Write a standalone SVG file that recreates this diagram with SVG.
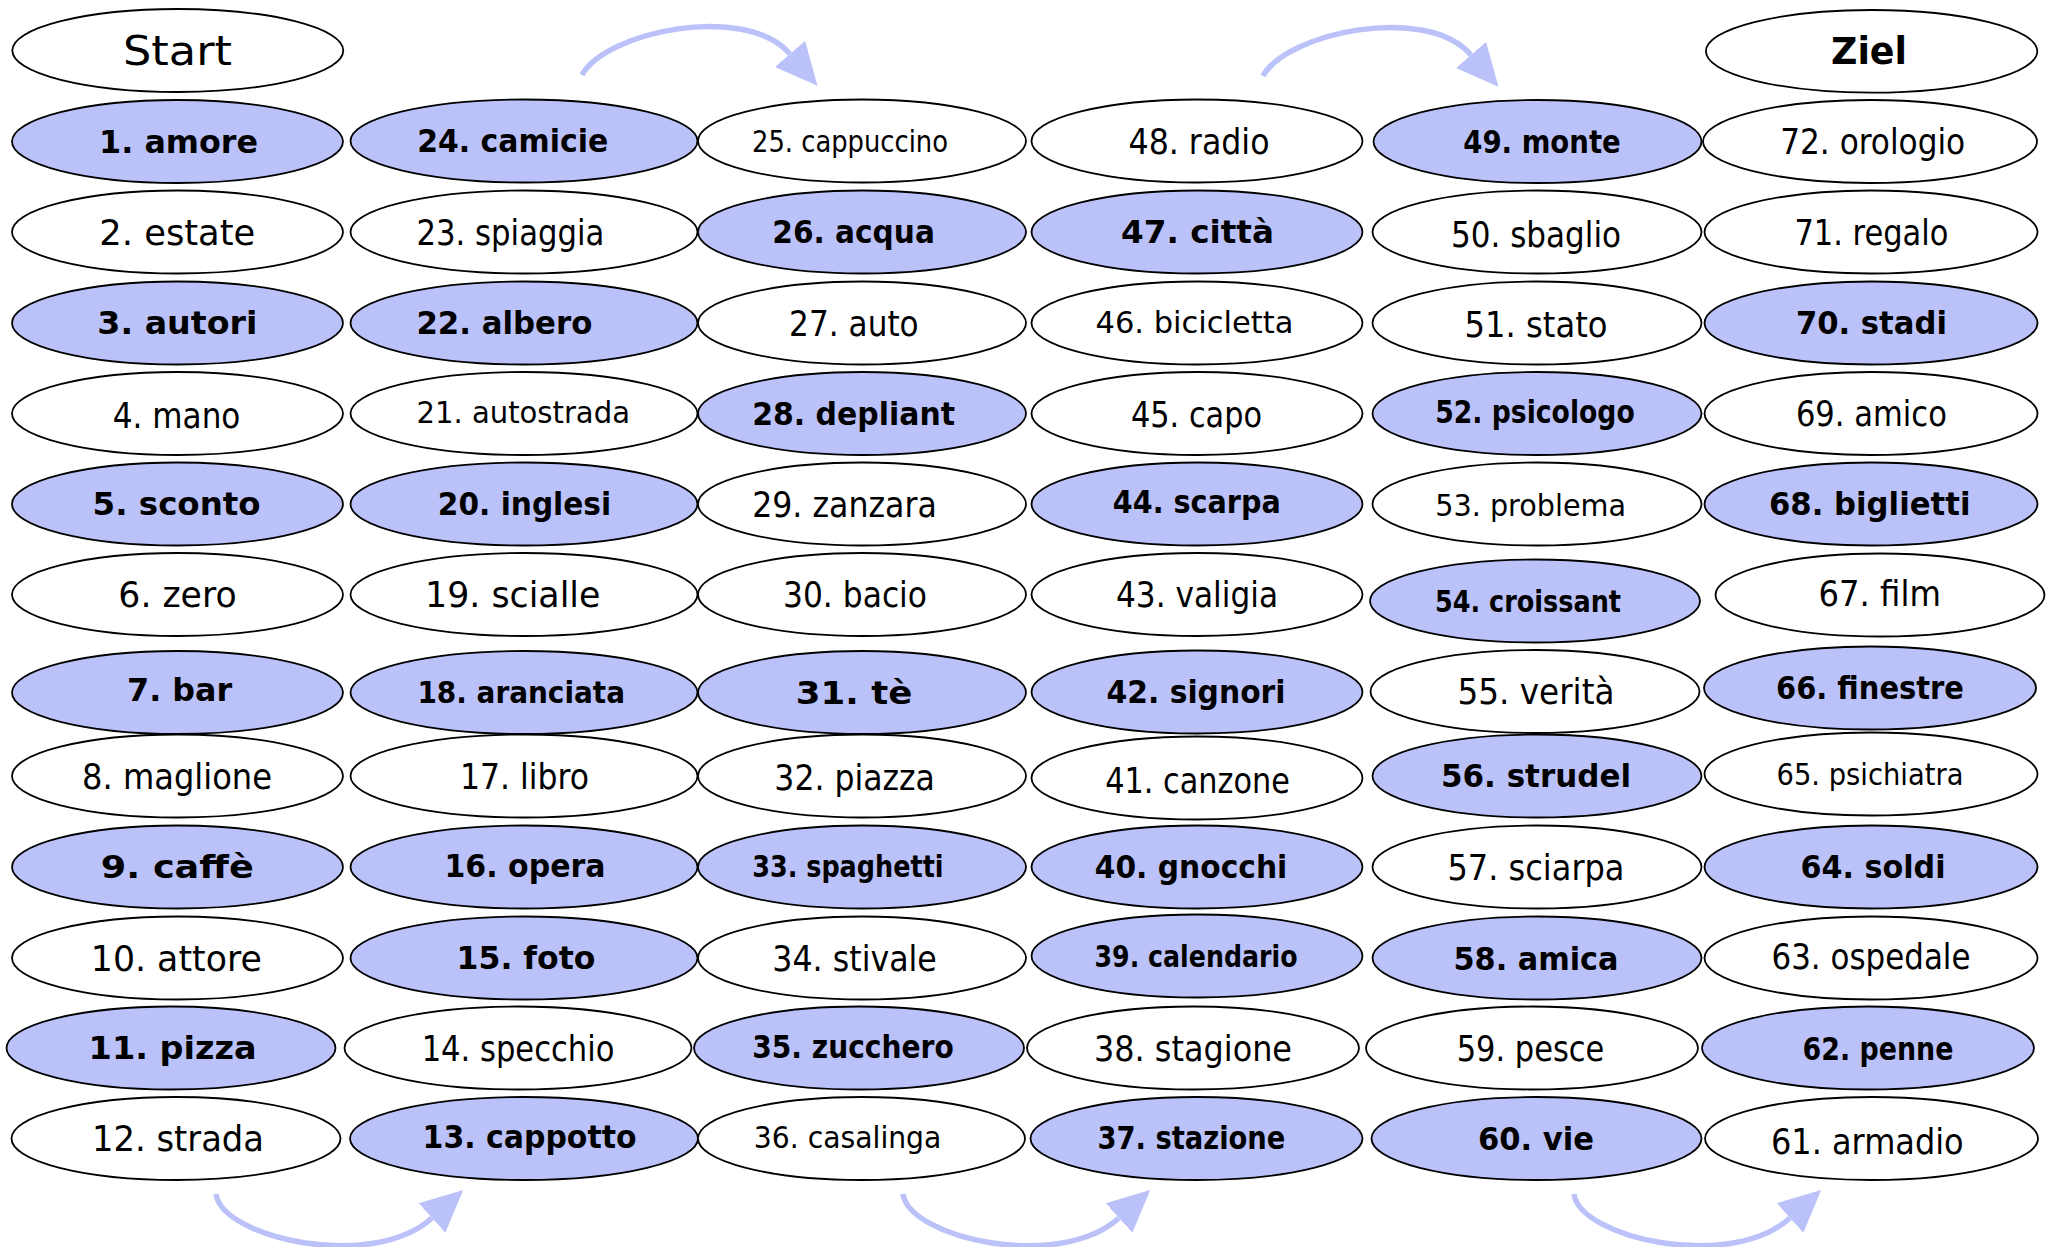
<svg xmlns="http://www.w3.org/2000/svg" width="2053" height="1247" viewBox="0 0 2053 1247">
<defs>
<style>
ellipse{stroke:#000;stroke-width:1.8}
.w{fill:#fff}
.bl{fill:#BBC2FA}
text{font-family:"DejaVu Sans",sans-serif;text-anchor:middle;dominant-baseline:central;fill:#000}
.r{font-size:36px}
.rs{font-size:31px}
.b{font-size:32px;font-weight:bold}
.bs{font-size:30px;font-weight:bold}
.big{font-size:40px}
.bigb{font-size:37px;font-weight:bold}
.arrow{fill:none;stroke:#BBC2FA;stroke-width:5.5;marker-end:url(#ah)}
</style>
<marker id="ah" markerUnits="userSpaceOnUse" viewBox="0 -21 42 42" refX="0" refY="0" markerWidth="42" markerHeight="42" orient="auto">
<path d="M0,-20 L42,0 L0,20 z" fill="#BBC2FA"/>
</marker>
</defs>
<rect width="2053" height="1247" fill="#fff"/>

<g id="connectors">
<path class="arrow" d="M582,75 C605,32 745,2 790,54"/>
<path class="arrow" d="M1263,76 C1286,33 1426,3 1471,55"/>
<path class="arrow" d="M216,1194 C222,1238 372,1272 432,1218"/>
<path class="arrow" d="M903,1194 C909,1238 1059,1272 1119,1218"/>
<path class="arrow" d="M1574,1194 C1580,1238 1730,1272 1790,1218"/>
</g>

<g id="start"><ellipse class="w" cx="177.8" cy="50.5" rx="165.5" ry="41.5"/><text class="big" x="177.5" y="50.5" textLength="109" lengthAdjust="spacingAndGlyphs">Start</text></g>
<g id="ziel"><ellipse class="w" cx="1871.6" cy="51.3" rx="165.7" ry="41.3"/><text class="bigb" x="1869" y="51.3" textLength="76" lengthAdjust="spacingAndGlyphs">Ziel</text></g>

<g id="n1"><ellipse class="bl" cx="177.5" cy="141.5" rx="165.5" ry="41.5"/><text class="b" x="178.6" y="141.5" textLength="159" lengthAdjust="spacingAndGlyphs">1. amore</text></g>
<g id="n24"><ellipse class="bl" cx="524" cy="141" rx="173.5" ry="41.5"/><text class="b" x="512.7" y="141" textLength="191" lengthAdjust="spacingAndGlyphs">24. camicie</text></g>
<g id="n25"><ellipse class="w" cx="862" cy="141" rx="164" ry="41.5"/><text class="rs" x="850" y="141" textLength="196" lengthAdjust="spacingAndGlyphs">25. cappuccino</text></g>
<g id="n48"><ellipse class="w" cx="1197" cy="141" rx="165.5" ry="41.5"/><text class="r" x="1199" y="141" textLength="141" lengthAdjust="spacingAndGlyphs">48. radio</text></g>
<g id="n49"><ellipse class="bl" cx="1537.5" cy="141.5" rx="164" ry="41.5"/><text class="b" x="1542" y="141.5" textLength="157.5" lengthAdjust="spacingAndGlyphs">49. monte</text></g>
<g id="n72"><ellipse class="w" cx="1870" cy="141.5" rx="167" ry="41.5"/><text class="r" x="1872.7" y="141.5" textLength="185" lengthAdjust="spacingAndGlyphs">72. orologio</text></g>

<g id="n2"><ellipse class="w" cx="177.5" cy="232" rx="165.5" ry="41.5"/><text class="r" x="177.3" y="232" textLength="156" lengthAdjust="spacingAndGlyphs">2. estate</text></g>
<g id="n23"><ellipse class="w" cx="524" cy="232" rx="173.5" ry="41.5"/><text class="r" x="510.4" y="232" textLength="188" lengthAdjust="spacingAndGlyphs">23. spiaggia</text></g>
<g id="n26"><ellipse class="bl" cx="862" cy="232" rx="164" ry="41.5"/><text class="b" x="853.6" y="232" textLength="162.6" lengthAdjust="spacingAndGlyphs">26. acqua</text></g>
<g id="n47"><ellipse class="bl" cx="1197" cy="232" rx="165.5" ry="41.5"/><text class="b" x="1197.5" y="232" textLength="153" lengthAdjust="spacingAndGlyphs">47. città</text></g>
<g id="n50"><ellipse class="w" cx="1537" cy="232" rx="164.5" ry="41.5"/><text class="r" x="1536" y="234" textLength="170" lengthAdjust="spacingAndGlyphs">50. sbaglio</text></g>
<g id="n71"><ellipse class="w" cx="1871" cy="232" rx="166.5" ry="41.5"/><text class="r" x="1871.4" y="232" textLength="154" lengthAdjust="spacingAndGlyphs">71. regalo</text></g>

<g id="n3"><ellipse class="bl" cx="177.5" cy="323" rx="165.5" ry="41.5"/><text class="b" x="177.3" y="323" textLength="160" lengthAdjust="spacingAndGlyphs">3. autori</text></g>
<g id="n22"><ellipse class="bl" cx="524" cy="323" rx="173.5" ry="41.5"/><text class="b" x="504.4" y="323" textLength="176" lengthAdjust="spacingAndGlyphs">22. albero</text></g>
<g id="n27"><ellipse class="w" cx="862" cy="323" rx="164" ry="41.5"/><text class="r" x="853.9" y="323" textLength="129.6" lengthAdjust="spacingAndGlyphs">27. auto</text></g>
<g id="n46"><ellipse class="w" cx="1197" cy="323" rx="165.5" ry="41.5"/><text class="rs" x="1194.5" y="322" textLength="198" lengthAdjust="spacingAndGlyphs">46. bicicletta</text></g>
<g id="n51"><ellipse class="w" cx="1537" cy="323" rx="164.5" ry="41.5"/><text class="r" x="1536" y="324" textLength="143" lengthAdjust="spacingAndGlyphs">51. stato</text></g>
<g id="n70"><ellipse class="bl" cx="1871" cy="323" rx="166.5" ry="41.5"/><text class="b" x="1871.4" y="323" textLength="151" lengthAdjust="spacingAndGlyphs">70. stadi</text></g>

<g id="n4"><ellipse class="w" cx="177.5" cy="413.5" rx="165.5" ry="41.5"/><text class="r" x="176.6" y="415" textLength="127.6" lengthAdjust="spacingAndGlyphs">4. mano</text></g>
<g id="n21"><ellipse class="w" cx="524" cy="413.5" rx="173.5" ry="41.5"/><text class="rs" x="523.2" y="412" textLength="213.6" lengthAdjust="spacingAndGlyphs">21. autostrada</text></g>
<g id="n28"><ellipse class="bl" cx="862" cy="413.5" rx="164" ry="41.5"/><text class="b" x="853.6" y="413.5" textLength="202.8" lengthAdjust="spacingAndGlyphs">28. depliant</text></g>
<g id="n45"><ellipse class="w" cx="1197" cy="413.5" rx="165.5" ry="41.5"/><text class="r" x="1196.5" y="414" textLength="131" lengthAdjust="spacingAndGlyphs">45. capo</text></g>
<g id="n52"><ellipse class="bl" cx="1537" cy="413.5" rx="164.5" ry="41.5"/><text class="b" x="1535" y="412" textLength="199.5" lengthAdjust="spacingAndGlyphs">52. psicologo</text></g>
<g id="n69"><ellipse class="w" cx="1871" cy="413.5" rx="166.5" ry="41.5"/><text class="r" x="1871.4" y="413.5" textLength="151" lengthAdjust="spacingAndGlyphs">69. amico</text></g>

<g id="n5"><ellipse class="bl" cx="177.5" cy="504" rx="165.5" ry="41.5"/><text class="b" x="176.6" y="504" textLength="168" lengthAdjust="spacingAndGlyphs">5. sconto</text></g>
<g id="n20"><ellipse class="bl" cx="524" cy="504" rx="173.5" ry="41.5"/><text class="b" x="524.5" y="504" textLength="173.3" lengthAdjust="spacingAndGlyphs">20. inglesi</text></g>
<g id="n29"><ellipse class="w" cx="862" cy="504" rx="164" ry="41.5"/><text class="r" x="844.5" y="504" textLength="184.7" lengthAdjust="spacingAndGlyphs">29. zanzara</text></g>
<g id="n44"><ellipse class="bl" cx="1197" cy="504" rx="165.5" ry="41.5"/><text class="b" x="1196.8" y="502" textLength="168" lengthAdjust="spacingAndGlyphs">44. scarpa</text></g>
<g id="n53"><ellipse class="w" cx="1537" cy="504" rx="164.5" ry="41.5"/><text class="rs" x="1530.6" y="505" textLength="190.7" lengthAdjust="spacingAndGlyphs">53. problema</text></g>
<g id="n68"><ellipse class="bl" cx="1871" cy="504" rx="166.5" ry="41.5"/><text class="b" x="1869.7" y="504" textLength="201.5" lengthAdjust="spacingAndGlyphs">68. biglietti</text></g>

<g id="n6"><ellipse class="w" cx="177.5" cy="594.5" rx="165.5" ry="41.5"/><text class="r" x="177.5" y="594.5" textLength="118.3" lengthAdjust="spacingAndGlyphs">6. zero</text></g>
<g id="n19"><ellipse class="w" cx="524" cy="594.5" rx="173.5" ry="41.5"/><text class="r" x="512.7" y="594.5" textLength="175.4" lengthAdjust="spacingAndGlyphs">19. scialle</text></g>
<g id="n30"><ellipse class="w" cx="862" cy="594.5" rx="164" ry="41.5"/><text class="r" x="855" y="594.5" textLength="144" lengthAdjust="spacingAndGlyphs">30. bacio</text></g>
<g id="n43"><ellipse class="w" cx="1197" cy="594.5" rx="165.5" ry="41.5"/><text class="r" x="1197" y="594.5" textLength="162" lengthAdjust="spacingAndGlyphs">43. valigia</text></g>
<g id="n54"><ellipse class="bl" cx="1535" cy="601" rx="165" ry="41.5"/><text class="bs" x="1528" y="601" textLength="186" lengthAdjust="spacingAndGlyphs">54. croissant</text></g>
<g id="n67"><ellipse class="w" cx="1880" cy="595" rx="164.5" ry="41.5"/><text class="r" x="1879.7" y="593" textLength="122.4" lengthAdjust="spacingAndGlyphs">67. film</text></g>

<g id="n7"><ellipse class="bl" cx="177.5" cy="692.5" rx="165.5" ry="41.5"/><text class="b" x="179.6" y="690" textLength="105" lengthAdjust="spacingAndGlyphs">7. bar</text></g>
<g id="n18"><ellipse class="bl" cx="524" cy="692.5" rx="173.5" ry="41.5"/><text class="bs" x="521.2" y="692" textLength="207.6" lengthAdjust="spacingAndGlyphs">18. aranciata</text></g>
<g id="n31"><ellipse class="bl" cx="862" cy="692.5" rx="164" ry="41.5"/><text class="b" x="854" y="693" textLength="116.5" lengthAdjust="spacingAndGlyphs">31. tè</text></g>
<g id="n42"><ellipse class="bl" cx="1197" cy="692" rx="165.5" ry="41.5"/><text class="b" x="1196" y="692" textLength="179" lengthAdjust="spacingAndGlyphs">42. signori</text></g>
<g id="n55"><ellipse class="w" cx="1535" cy="691.5" rx="164.5" ry="41.5"/><text class="r" x="1536" y="691.5" textLength="157" lengthAdjust="spacingAndGlyphs">55. verità</text></g>
<g id="n66"><ellipse class="bl" cx="1870" cy="688" rx="166" ry="41.5"/><text class="b" x="1870" y="688" textLength="188" lengthAdjust="spacingAndGlyphs">66. finestre</text></g>

<g id="n8"><ellipse class="w" cx="177.5" cy="776" rx="165.5" ry="41.5"/><text class="r" x="177" y="776" textLength="190" lengthAdjust="spacingAndGlyphs">8. maglione</text></g>
<g id="n17"><ellipse class="w" cx="524" cy="776" rx="173.5" ry="41.5"/><text class="r" x="524.5" y="776" textLength="129" lengthAdjust="spacingAndGlyphs">17. libro</text></g>
<g id="n32"><ellipse class="w" cx="862" cy="776" rx="164" ry="41.5"/><text class="r" x="854.6" y="777" textLength="160.5" lengthAdjust="spacingAndGlyphs">32. piazza</text></g>
<g id="n41"><ellipse class="w" cx="1197" cy="778" rx="165.5" ry="41.5"/><text class="r" x="1197.5" y="780" textLength="184.6" lengthAdjust="spacingAndGlyphs">41. canzone</text></g>
<g id="n56"><ellipse class="bl" cx="1537" cy="776" rx="164.5" ry="41.5"/><text class="b" x="1536" y="776" textLength="190" lengthAdjust="spacingAndGlyphs">56. strudel</text></g>
<g id="n65"><ellipse class="w" cx="1871" cy="774" rx="166.5" ry="41.5"/><text class="rs" x="1870" y="774" textLength="187" lengthAdjust="spacingAndGlyphs">65. psichiatra</text></g>

<g id="n9"><ellipse class="bl" cx="177.5" cy="867" rx="165.5" ry="41.5"/><text class="b" x="177.3" y="867" textLength="153" lengthAdjust="spacingAndGlyphs">9. caffè</text></g>
<g id="n16"><ellipse class="bl" cx="524" cy="867" rx="173.5" ry="41.5"/><text class="b" x="525" y="866" textLength="161" lengthAdjust="spacingAndGlyphs">16. opera</text></g>
<g id="n33"><ellipse class="bl" cx="862" cy="867" rx="164" ry="41.5"/><text class="bs" x="847.9" y="866" textLength="191.4" lengthAdjust="spacingAndGlyphs">33. spaghetti</text></g>
<g id="n40"><ellipse class="bl" cx="1197" cy="867" rx="165.5" ry="41.5"/><text class="b" x="1191" y="867" textLength="192.5" lengthAdjust="spacingAndGlyphs">40. gnocchi</text></g>
<g id="n57"><ellipse class="w" cx="1537" cy="867" rx="164.5" ry="41.5"/><text class="r" x="1536" y="867" textLength="177" lengthAdjust="spacingAndGlyphs">57. sciarpa</text></g>
<g id="n64"><ellipse class="bl" cx="1871" cy="867" rx="166.5" ry="41.5"/><text class="b" x="1873" y="867" textLength="145" lengthAdjust="spacingAndGlyphs">64. soldi</text></g>

<g id="n10"><ellipse class="w" cx="177.5" cy="958" rx="165.5" ry="41.5"/><text class="r" x="176.3" y="958" textLength="171" lengthAdjust="spacingAndGlyphs">10. attore</text></g>
<g id="n15"><ellipse class="bl" cx="524" cy="958" rx="173.5" ry="41.5"/><text class="b" x="526" y="958" textLength="139" lengthAdjust="spacingAndGlyphs">15. foto</text></g>
<g id="n34"><ellipse class="w" cx="862" cy="958" rx="164" ry="41.5"/><text class="r" x="854.6" y="958" textLength="164.5" lengthAdjust="spacingAndGlyphs">34. stivale</text></g>
<g id="n39"><ellipse class="bl" cx="1197" cy="956" rx="165.5" ry="41.5"/><text class="bs" x="1196" y="956" textLength="203" lengthAdjust="spacingAndGlyphs">39. calendario</text></g>
<g id="n58"><ellipse class="bl" cx="1537" cy="958" rx="164.5" ry="41.5"/><text class="b" x="1536" y="959" textLength="165" lengthAdjust="spacingAndGlyphs">58. amica</text></g>
<g id="n63"><ellipse class="w" cx="1871" cy="958" rx="166.5" ry="41.5"/><text class="r" x="1871" y="956" textLength="199" lengthAdjust="spacingAndGlyphs">63. ospedale</text></g>

<g id="n11"><ellipse class="bl" cx="171" cy="1048" rx="164.5" ry="41.5"/><text class="b" x="172.6" y="1048" textLength="168" lengthAdjust="spacingAndGlyphs">11. pizza</text></g>
<g id="n14"><ellipse class="w" cx="518" cy="1048" rx="173.5" ry="41.5"/><text class="r" x="518" y="1048" textLength="192.7" lengthAdjust="spacingAndGlyphs">14. specchio</text></g>
<g id="n35"><ellipse class="bl" cx="859" cy="1048" rx="165" ry="41.5"/><text class="b" x="853" y="1047" textLength="201.5" lengthAdjust="spacingAndGlyphs">35. zucchero</text></g>
<g id="n38"><ellipse class="w" cx="1193" cy="1048" rx="166" ry="41.5"/><text class="r" x="1193" y="1048" textLength="198" lengthAdjust="spacingAndGlyphs">38. stagione</text></g>
<g id="n59"><ellipse class="w" cx="1532" cy="1048" rx="166" ry="41.5"/><text class="r" x="1530.5" y="1048" textLength="147.7" lengthAdjust="spacingAndGlyphs">59. pesce</text></g>
<g id="n62"><ellipse class="bl" cx="1868" cy="1048" rx="166" ry="41.5"/><text class="b" x="1878" y="1049" textLength="151" lengthAdjust="spacingAndGlyphs">62. penne</text></g>

<g id="n12"><ellipse class="w" cx="176" cy="1138.5" rx="164.5" ry="41.5"/><text class="r" x="178" y="1138.5" textLength="172" lengthAdjust="spacingAndGlyphs">12. strada</text></g>
<g id="n13"><ellipse class="bl" cx="524" cy="1138.5" rx="174" ry="41.5"/><text class="b" x="529.6" y="1137" textLength="214" lengthAdjust="spacingAndGlyphs">13. cappotto</text></g>
<g id="n36"><ellipse class="w" cx="861.5" cy="1138.5" rx="163.5" ry="41.5"/><text class="rs" x="847.6" y="1137" textLength="187.5" lengthAdjust="spacingAndGlyphs">36. casalinga</text></g>
<g id="n37"><ellipse class="bl" cx="1196.5" cy="1138.5" rx="166" ry="41.5"/><text class="b" x="1191.4" y="1138" textLength="188" lengthAdjust="spacingAndGlyphs">37. stazione</text></g>
<g id="n60"><ellipse class="bl" cx="1536.5" cy="1138.5" rx="165" ry="41.5"/><text class="b" x="1536" y="1138.5" textLength="116" lengthAdjust="spacingAndGlyphs">60. vie</text></g>
<g id="n61"><ellipse class="w" cx="1871.5" cy="1138.5" rx="166.5" ry="41.5"/><text class="r" x="1867.3" y="1141" textLength="192.7" lengthAdjust="spacingAndGlyphs">61. armadio</text></g>
</svg>
